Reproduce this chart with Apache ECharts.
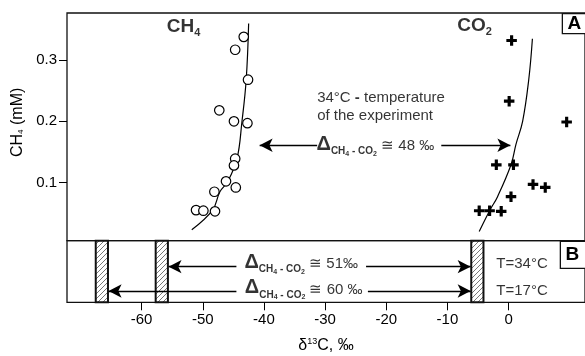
<!DOCTYPE html>
<html>
<head>
<meta charset="utf-8">
<script src="https://cdn.jsdelivr.net/npm/echarts@6/dist/echarts.min.js"></script>
<style>
html, body { margin: 0; padding: 0; background: #fff; }
#chart { width: 585px; height: 356px; }
</style>
</head>
<body>
<div id="chart"></div>
<script>
// tick labels
var xTicks = [-60, -50, -40, -30, -20, -10, 0]
var yTicks = [0.1, 0.2, 0.3]

// panel A measurements: [d13C, CH4 mM]
var ch4Points = [[-43.3, 0.338], [-44.7, 0.317], [-42.6, 0.268], [-47.3, 0.218], [-44.9, 0.200],
  [-42.7, 0.197], [-44.7, 0.139], [-44.9, 0.128], [-46.2, 0.102], [-44.6, 0.092], [-48.1, 0.085],
  [-51.1, 0.055], [-49.9, 0.054], [-48.0, 0.053]]
var co2Points = [[0.5, 0.332], [0.1, 0.233], [9.5, 0.199], [-2.0, 0.129], [0.8, 0.129], [4.0, 0.097],
  [6.0, 0.092], [0.4, 0.077], [-4.8, 0.054], [-3.1, 0.054], [-1.2, 0.053]]

// fitted curves
var ch4Fit = [[-51.8, 0.023], [-48.4, 0.055], [-47.2, 0.085], [-45.9, 0.102], [-44.4, 0.139],
  [-43.6, 0.199], [-42.9, 0.268], [-42.5, 0.360]]
var co2Fit = [[-4.8, 0.020], [-3.1, 0.054], [-1.8, 0.077], [0.4, 0.129], [1.2, 0.162],
  [2.3, 0.200], [3.3, 0.268], [3.9, 0.335]]

// panel B: hatched ranges [from, to]
var hatchBars = [[-67.5, -65.5], [-57.7, -55.7], [-6.1, -4.1]]

// arrows [from, to, y]
var arrowsA = [[-31.3, -40.7, 0.161], [-11.0, 0.3, 0.161]]
var arrowsB = [[-44.5, -55.6, 0.578], [-23.3, -6.2, 0.578], [-44.5, -65.4, 0.183], [-23.0, -6.2, 0.183]]

var FONT = '"Liberation Sans", Arial, sans-serif'
var XMIN = -72.2
var XMAX = 12.5

// hatch pattern
var hatch = document.createElement('canvas')
hatch.width = 5
hatch.height = 5
var g = hatch.getContext('2d')
g.fillStyle = '#fff'
g.fillRect(0, 0, 5, 5)
g.strokeStyle = '#777'
g.lineWidth = 1
g.beginPath()
g.moveTo(0, 5); g.lineTo(5, 0)
g.moveTo(-1, 1); g.lineTo(1, -1)
g.moveTo(4, 6); g.lineTo(6, 4)
g.stroke()

var rich = {
  d: { fontSize: 20, fontWeight: 'bold', fontFamily: FONT, verticalAlign: 'bottom', padding: [0, 0, 3, 0] },
  s: { fontSize: 10, fontWeight: 'bold', fontFamily: FONT, verticalAlign: 'bottom', padding: [0, 0, 1, 0] },
  ss: { fontSize: 7, fontWeight: 'bold', fontFamily: FONT, verticalAlign: 'bottom', padding: [0, 0, 0, 0] },
  t: { fontSize: 15, fontFamily: FONT, verticalAlign: 'bottom', padding: [0, 0, 4, 0] },
  b: { fontSize: 19, fontWeight: 'bold', fontFamily: FONT, verticalAlign: 'bottom', padding: [0, 0, 3, 0] },
  bs: { fontSize: 11, fontWeight: 'bold', fontFamily: FONT, verticalAlign: 'bottom', padding: [0, 0, 1, 0] },
  n: { fontSize: 15, fontFamily: FONT, lineHeight: 17.5 },
  nb: { fontSize: 15, fontWeight: 'bold', fontFamily: FONT, lineHeight: 17.5 },
  m: { fontSize: 15, fontFamily: FONT }
}

function delta (val) {
  return '{d|Δ}{s|CH}{ss|4}{s| - CO}{ss|2}{t| ≅ ' + val + '}'
}

function arrowLines (list) {
  return list.map(function (a) {
    return [{ coord: [a[0], a[2]] }, { coord: [a[1], a[2]] }]
  })
}

function arrowMark (list) {
  return {
    silent: true,
    symbol: ['none', 'arrow'],
    symbolSize: [10, 13],
    lineStyle: { color: '#000', width: 1.3, type: 'solid' },
    label: { show: false },
    animation: false,
    data: arrowLines(list)
  }
}

function textItem (x, y, text, align) {
  return {
    value: [x, y],
    label: { show: true, position: 'inside', formatter: text, align: align || 'left', verticalAlign: 'middle', color: '#000', rich: rich }
  }
}

var option = {
  animation: false,
  grid: [
    { left: 67, top: 13, width: 520, height: 227.7, show: true, borderColor: '#111', borderWidth: 1.3 },
    { left: 67, top: 240.7, width: 520, height: 61.6, show: true, borderColor: '#111', borderWidth: 1.3 }
  ],
  xAxis: [
    { type: 'value', gridIndex: 0, min: XMIN, max: XMAX, axisLine: { show: false, onZero: false }, axisTick: { show: false }, axisLabel: { show: false }, splitLine: { show: false } },
    {
      type: 'value', gridIndex: 1, min: XMIN, max: XMAX,
      axisLine: { show: false, onZero: false },
      splitLine: { show: false },
      axisTick: { show: true, length: 8, lineStyle: { color: '#000', width: 1 }, customValues: xTicks },
      axisLabel: { color: '#000', fontSize: 15, fontFamily: FONT, margin: 10, customValues: xTicks },
      name: '{m|δ}{sup|13}{m|C, ‰}',
      nameLocation: 'middle',
      nameGap: 35,
      nameTextStyle: { rich: { m: { fontSize: 16, fontFamily: FONT, color: '#000' }, sup: { fontSize: 9, fontFamily: FONT, color: '#000', verticalAlign: 'top' } } }
    }
  ],
  yAxis: [
    {
      type: 'value', gridIndex: 0, min: 0.005, max: 0.377,
      axisLine: { show: false, onZero: false },
      splitLine: { show: false },
      axisTick: { show: true, length: 8, lineStyle: { color: '#000', width: 1 }, customValues: yTicks },
      axisLabel: { color: '#000', fontSize: 15, fontFamily: FONT, margin: 10, customValues: yTicks, formatter: function (v) { return v.toFixed(1) } },
      name: '{m|CH}{sub|4}{m| (mM)}',
      nameLocation: 'middle',
      nameGap: 38,
      nameTextStyle: { padding: [0, 0, 0, 9], rich: { m: { fontSize: 16, fontFamily: FONT, color: '#000' }, sub: { fontSize: 8, fontFamily: FONT, color: '#000', verticalAlign: 'bottom' } } }
    },
    { type: 'value', gridIndex: 1, min: 0, max: 1, show: false }
  ],
  series: [
    {
      type: 'line', xAxisIndex: 0, yAxisIndex: 0, data: ch4Fit, smooth: 0.4, showSymbol: false,
      lineStyle: { color: '#000', width: 1.2 }, z: 2
    },
    {
      type: 'line', xAxisIndex: 0, yAxisIndex: 0, data: co2Fit, smooth: 0.4, showSymbol: false,
      lineStyle: { color: '#000', width: 1.2 }, z: 2
    },
    {
      type: 'scatter', xAxisIndex: 0, yAxisIndex: 0, data: ch4Points, symbol: 'circle', symbolSize: 9.5,
      itemStyle: { color: '#fff', borderColor: '#000', borderWidth: 1.2, opacity: 1 }, z: 3
    },
    {
      type: 'scatter', xAxisIndex: 0, yAxisIndex: 0, data: co2Points,
      symbol: 'path://M3.5,0h3v3.5h3.5v3h-3.5v3.5h-3v-3.5h-3.5v-3h3.5z', symbolSize: 10.5,
      itemStyle: { color: '#000', opacity: 1 }, z: 3
    },
    {
      type: 'custom', xAxisIndex: 1, yAxisIndex: 1, data: hatchBars,
      encode: { x: [0, 1] },
      renderItem: function (params, api) {
        var p0 = api.coord([api.value(0), 1])
        var p1 = api.coord([api.value(1), 0])
        return {
          type: 'rect',
          shape: { x: p0[0], y: p0[1], width: p1[0] - p0[0], height: p1[1] - p0[1] },
          style: { fill: { image: hatch, repeat: 'repeat' }, stroke: '#111', lineWidth: 2 }
        }
      },
      z: 3
    },
    {
      type: 'scatter', xAxisIndex: 0, yAxisIndex: 0, symbolSize: 0, silent: true, z: 5,
      data: [
        textItem(-55.9, 0.352, '{b|CH}{bs|4}'),
        textItem(-8.4, 0.353, '{b|CO}{bs|2}'),
        textItem(-31.3, 0.224, '{n|34°C }{nb|-}{n| temperature}\n{n|of the experiment}'),
        textItem(-31.4, 0.160, delta('48 ‰'))
      ],
      markLine: arrowMark(arrowsA)
    },
    {
      type: 'scatter', xAxisIndex: 1, yAxisIndex: 1, symbolSize: 0, silent: true, z: 5,
      data: [
        textItem(-33.9, 0.62, delta('51‰'), 'center'),
        textItem(-33.5, 0.21, delta('60 ‰'), 'center'),
        textItem(2.2, 0.62, '{m|T=34°C}', 'center'),
        textItem(2.2, 0.19, '{m|T=17°C}', 'center')
      ],
      markLine: arrowMark(arrowsB)
    }
  ],
  graphic: [
    {
      type: 'group', right: -2, top: 13,
      children: [
        { type: 'rect', shape: { x: 0, y: 0, width: 24, height: 20 }, style: { fill: '#fff', stroke: '#111', lineWidth: 1.3 } },
        { type: 'text', x: 12, y: 10.5, style: { text: 'A', font: 'bold 19px ' + FONT, fill: '#000', align: 'center', verticalAlign: 'middle' } }
      ]
    },
    {
      type: 'group', right: -2, top: 240.7,
      children: [
        { type: 'rect', shape: { x: 0, y: 0, width: 26, height: 27 }, style: { fill: '#fff', stroke: '#111', lineWidth: 1.3 } },
        { type: 'text', x: 12, y: 13.5, style: { text: 'B', font: 'bold 19px ' + FONT, fill: '#000', align: 'center', verticalAlign: 'middle' } }
      ]
    }
  ]
}

var chart = echarts.init(document.getElementById('chart'))
chart.setOption(option)
</script>
</body>
</html>
